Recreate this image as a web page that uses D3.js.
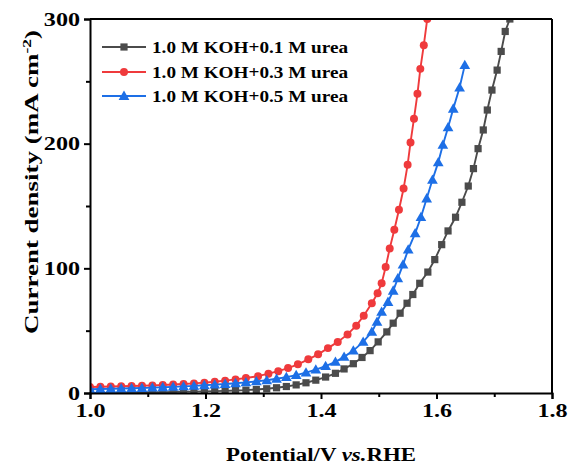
<!DOCTYPE html>
<html>
<head>
<meta charset="utf-8">
<script src="https://cdn.jsdelivr.net/npm/d3@7"></script>
<style>
  html, body { margin: 0; padding: 0; background: #fff; }
  svg { display: block; }
  text { font-family: "Liberation Serif", "Times New Roman", serif; font-weight: bold; fill: #000; }
</style>
</head>
<body>
<svg id="chart" width="568" height="467"></svg>
<script>
// LSV polarization curves (potential in V vs. RHE, current density in mA cm^-2)
const seriesNames = ["1.0 M KOH+0.1 M urea", "1.0 M KOH+0.3 M urea", "1.0 M KOH+0.5 M urea"];
const seriesColors = ["#4b4b4b", "#ef3a3c", "#1d6fe6"];
const seriesSymbols = ["square", "circle", "triangle"];

const potential01 = [1.000,1.018,1.036,1.054,1.072,1.090,1.108,1.126,1.144,1.162,1.180,1.198,1.216,1.234,1.252,1.270,1.288,1.306,1.323,1.340,1.357,1.374,1.391,1.408,1.425,1.440,1.456,1.471,1.485,1.499,1.514,1.525,1.537,1.549,1.559,1.571,1.585,1.597,1.609,1.620,1.633,1.644,1.655,1.664,1.672,1.681,1.688,1.696,1.705,1.712,1.719,1.727];
const current01   = [0.0,0.1,0.2,0.3,0.4,0.5,0.6,0.7,0.8,1.0,1.1,1.3,1.5,1.7,2.0,2.3,2.8,3.4,4.2,5.2,6.5,8.2,10.3,12.8,15.8,19.3,23.5,28.5,34,41,49,56,64,72,79,88,97,107,119,130,141,153,166,180,196,211,227,243,259,274,290,300];

const potential03 = [1.000,1.018,1.036,1.054,1.072,1.090,1.108,1.126,1.144,1.162,1.180,1.198,1.216,1.234,1.252,1.270,1.291,1.309,1.326,1.343,1.360,1.378,1.395,1.412,1.429,1.446,1.461,1.474,1.488,1.498,1.505,1.512,1.519,1.527,1.535,1.543,1.550,1.555,1.561,1.567,1.572,1.578,1.584];
const current03   = [4.8,5.0,5.2,5.4,5.6,5.8,6.1,6.4,6.8,7.2,7.7,8.3,9.0,9.9,10.9,12.0,13.5,15.5,17.5,20,23,27,31,36,41,47,54,62,72,80,88,101,116,131,147,164,183,201,220,240,260,279,300];

const potential05 = [1.000,1.018,1.036,1.054,1.072,1.090,1.108,1.126,1.144,1.162,1.180,1.198,1.216,1.234,1.252,1.270,1.288,1.306,1.323,1.340,1.357,1.374,1.391,1.408,1.425,1.440,1.456,1.473,1.488,1.497,1.505,1.516,1.525,1.533,1.542,1.551,1.563,1.573,1.583,1.593,1.603,1.611,1.620,1.629,1.640,1.649];
const current05   = [3.0,3.2,3.4,3.6,3.8,4.0,4.3,4.6,4.9,5.3,5.7,6.2,6.7,7.2,7.8,8.5,9.3,10.2,11.4,12.7,14.3,16.3,18.7,21.5,25,29,34,41,49,57,65,73,82,92,103,115,128,141,156,171,185,199,213,228,245,263];

const xTicks = [1.0, 1.2, 1.4, 1.6, 1.8];
const xMinorTicks = [1.1, 1.3, 1.5, 1.7];
const yTicks = [0, 100, 200, 300];
const yMinorTicks = [50, 150, 250];

const potentials = [potential01, potential03, potential05];
const currents = [current01, current03, current05];

const svg = d3.select("#chart");
const plot = { left: 90, right: 552, top: 19, bottom: 393 };

const x = d3.scaleLinear().domain([1.0, 1.8]).range([plot.left, plot.right]);
const y = d3.scaleLinear().domain([0, 300]).range([plot.bottom, plot.top]);

svg.append("defs").append("clipPath").attr("id", "plotClip")
  .append("rect")
  .attr("x", plot.left).attr("y", plot.top)
  .attr("width", plot.right - plot.left).attr("height", plot.bottom - plot.top);

const symbolType = { square: d3.symbolSquare, circle: d3.symbolCircle, triangle: d3.symbolTriangle };
const symbolSize = { square: 52, circle: 50, triangle: 50 };

const line = d3.line().x(d => x(d[0])).y(d => y(d[1]));

const dataLayer = svg.append("g").attr("clip-path", "url(#plotClip)");

seriesNames.forEach((name, i) => {
  const pts = potentials[i].map((v, k) => [v, currents[i][k]]);
  const g = dataLayer.append("g");
  g.append("path")
    .datum(pts)
    .attr("d", line)
    .attr("fill", "none")
    .attr("stroke", seriesColors[i])
    .attr("stroke-width", 1.9);
  const sym = d3.symbol().type(symbolType[seriesSymbols[i]]).size(symbolSize[seriesSymbols[i]]);
  g.selectAll("path.pt")
    .data(pts)
    .join("path")
    .attr("class", "pt")
    .attr("d", sym)
    .attr("transform", d => `translate(${x(d[0])},${y(d[1]) + (seriesSymbols[i] === "triangle" ? 0.8 : 0)})`)
    .attr("fill", seriesColors[i]);
});

// Frame: top and right borders without ticks
svg.append("line").attr("x1", plot.left).attr("x2", plot.right).attr("y1", plot.top).attr("y2", plot.top)
  .attr("stroke", "#000").attr("stroke-width", 2);
svg.append("line").attr("x1", plot.right).attr("x2", plot.right).attr("y1", plot.top).attr("y2", plot.bottom)
  .attr("stroke", "#000").attr("stroke-width", 2);

// Bottom axis
svg.append("g").attr("transform", `translate(0,${plot.bottom})`)
  .call(d3.axisBottom(x).tickValues(xTicks).tickFormat(d3.format(".1f")).tickSize(6).tickPadding(5));
svg.append("g").attr("transform", `translate(0,${plot.bottom})`)
  .call(d3.axisBottom(x).tickValues(xMinorTicks).tickFormat("").tickSize(4))
  .call(g => g.select(".domain").remove());

// Left axis
svg.append("g").attr("transform", `translate(${plot.left},0)`)
  .call(d3.axisLeft(y).tickValues(yTicks).tickFormat(d3.format("d")).tickSize(6).tickPadding(4));
svg.append("g").attr("transform", `translate(${plot.left},0)`)
  .call(d3.axisLeft(y).tickValues(yMinorTicks).tickFormat("").tickSize(4))
  .call(g => g.select(".domain").remove());

svg.selectAll(".domain").attr("stroke", "#000").attr("stroke-width", 2);
svg.selectAll(".tick line").attr("stroke", "#000").attr("stroke-width", 2);
svg.selectAll(".tick text")
  .attr("font-family", "Liberation Serif, Times New Roman, serif")
  .attr("font-weight", "bold")
  .attr("font-size", 19)
  .attr("fill", "#000");

// Stretch a label horizontally (along its baseline) to a given width
function fitText(node, target) {
  const parts = node.querySelectorAll("tspan");
  const pieces = parts.length ? Array.from(parts) : [node];
  const lens = pieces.map(p => p.getComputedTextLength());
  const total = lens.reduce((a, b) => a + b, 0);
  const k = target / total;
  pieces.forEach((p, j) => {
    p.setAttribute("textLength", (lens[j] * k).toFixed(2));
    p.setAttribute("lengthAdjust", "spacingAndGlyphs");
  });
}

// Axis titles
const xTitle = svg.append("text")
  .attr("x", 321).attr("y", 461)
  .attr("text-anchor", "middle")
  .attr("font-size", 18);
xTitle.append("tspan").text("Potential/V ");
xTitle.append("tspan").attr("font-style", "italic").text("vs.");
xTitle.append("tspan").text("RHE");

const yTitle = svg.append("text")
  .attr("transform", "translate(38,182) rotate(-90)")
  .attr("text-anchor", "middle")
  .attr("font-size", 18.5);
yTitle.append("tspan").text("Current density (mA cm");
yTitle.append("tspan").attr("dy", -7.5).attr("font-size", 12).text("-2");
yTitle.append("tspan").attr("dy", 7.5).text(")");

// Legend
const legend = svg.append("g");
const legendRowY = [47, 72, 96];
const legendTexts = [];
seriesNames.forEach((name, i) => {
  const row = legend.append("g").attr("transform", `translate(0,${legendRowY[i]})`);
  row.append("line").attr("x1", 102).attr("x2", 146).attr("y1", 0).attr("y2", 0)
    .attr("stroke", seriesColors[i]).attr("stroke-width", 1.9);
  row.append("path")
    .attr("d", d3.symbol().type(symbolType[seriesSymbols[i]]).size(symbolSize[seriesSymbols[i]])())
    .attr("transform", `translate(124,${seriesSymbols[i] === "triangle" ? 0.8 : 0})`)
    .attr("fill", seriesColors[i]);
  legendTexts.push(row.append("text")
    .attr("x", 152).attr("y", 5.5)
    .attr("font-size", 16)
    .text(name).node());
});

// Wide setting of the typeface
svg.selectAll(".tick text").each(function () { fitText(this, this.getComputedTextLength() * 1.27); });
legendTexts.forEach(t => fitText(t, 196));
fitText(xTitle.node(), 190);
fitText(yTitle.node(), 304);
</script>
</body>
</html>
